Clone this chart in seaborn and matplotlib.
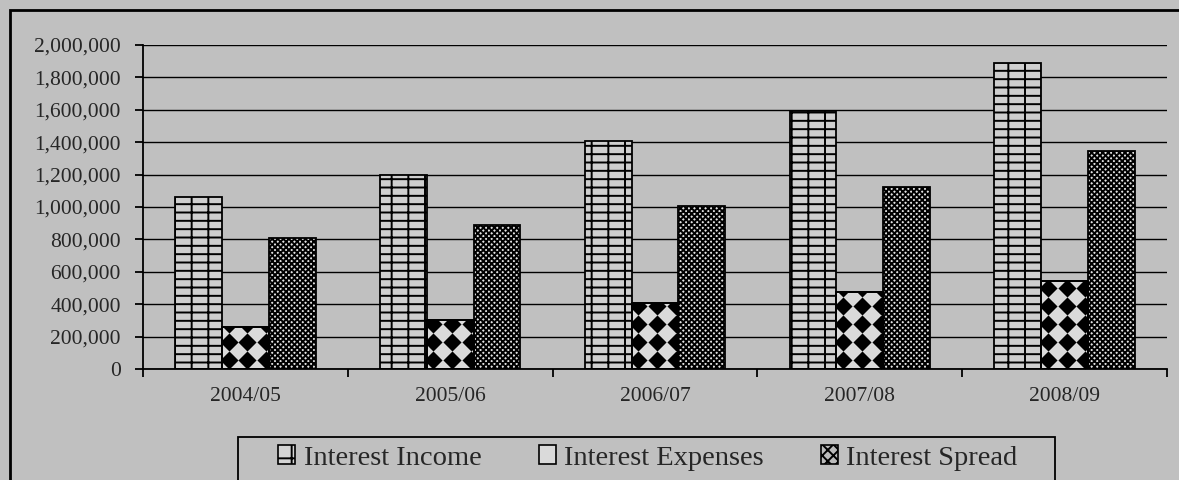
import numpy as np
import pandas as pd
import matplotlib
matplotlib.use("Agg")
import matplotlib.pyplot as plt
from matplotlib.patches import Rectangle, Patch
from matplotlib.ticker import FuncFormatter, MultipleLocator
import seaborn as sns

years = ["2004/05", "2005/06", "2006/07", "2007/08", "2008/09"]
interest_income = [1063000, 1195000, 1405000, 1590000, 1890000]
interest_expenses = [261000, 305000, 410000, 477000, 545000]
interest_spread = [807000, 890000, 1005000, 1122000, 1348000]
series = ["Interest Income", "Interest Expenses", "Interest Spread"]

df = pd.DataFrame({
    "Year": years * 3,
    "Value": interest_income + interest_expenses + interest_spread,
    "Series": np.repeat(series, len(years)),
})

bg = "#C0C0C0"
sns.set_theme(style="white")
plt.rcParams["font.family"] = ["Liberation Serif", "DejaVu Serif"]
plt.rcParams["hatch.linewidth"] = 1.4

fig = plt.figure(figsize=(11.79, 4.80), dpi=100, facecolor=bg)
ax = fig.add_axes([143 / 1179, 1 - 369 / 480, (1167 - 143) / 1179, (369 - 45) / 480])
ax.set_facecolor(bg)

fills = ["#CFCFCF", "#DADADA", "#E2E2E2"]
hatches = ["--|", "", "xxxxxx"]
sns.barplot(data=df, x="Year", y="Value", hue="Series", hue_order=series,
            width=0.685, gap=0, palette=fills, edgecolor="black",
            linewidth=1.3, ax=ax, legend=False, errorbar=None)

for cont, h, c in zip(ax.containers, hatches, fills):
    for bar in cont:
        bar.set_hatch(h)
        bar.set_facecolor(c)
        bar.set_edgecolor("black")

ax.set_ylim(0, 2000000)
ax.set_xlim(-0.5, len(years) - 0.5)

# diamond pattern inside the expenses bars
col_step = 0.092
row_step = 111000
for bar in ax.containers[1]:
    x0, w, hgt = bar.get_x(), bar.get_width(), bar.get_height()
    xs = np.arange(x0 + 0.35 * col_step, x0 + w + col_step, col_step)
    ys = np.arange(0.5 * row_step, hgt + row_step, row_step)
    gx, gy = np.meshgrid(xs, ys)
    sc = ax.scatter(gx.ravel(), gy.ravel(), marker="D", s=85, color="black",
                    linewidths=0, zorder=bar.get_zorder() + 0.1)
    sc.set_clip_path(bar)
    outline = Rectangle((x0, 0), w, hgt, fill=False, edgecolor="black",
                        linewidth=1.3, zorder=bar.get_zorder() + 0.2)
    ax.add_patch(outline)

ax.yaxis.set_major_locator(MultipleLocator(200000))
ax.yaxis.set_major_formatter(FuncFormatter(lambda v, p: f"{int(v):,}"))
ax.grid(axis="y", color="black", linewidth=1.0)
ax.set_axisbelow(True)
ax.set_xlabel("")
ax.set_ylabel("")

for s in ["top", "right"]:
    ax.spines[s].set_visible(False)
for s in ["left", "bottom"]:
    ax.spines[s].set_color("black")
    ax.spines[s].set_linewidth(1.3)

# category ticks sit between groups
ax.set_xticks(np.arange(len(years)))
ax.set_xticklabels(years)
ax.set_xticks(np.arange(-0.5, len(years)), minor=True)
ax.tick_params(axis="x", which="major", length=0, pad=13, labelsize=15.5)
ax.tick_params(axis="x", which="minor", length=6, width=1.3, color="black",
               direction="out", bottom=True)
ax.tick_params(axis="y", length=6, width=1.3, color="black", direction="out",
               left=True, labelsize=15.5, pad=10)

# outer frame
fig.patches.append(Rectangle((10 / 1179, -0.05), 1.1, 1 - 10 / 480 + 0.05,
                             transform=fig.transFigure, fill=False,
                             edgecolor="black", linewidth=2))
# legend frame
fig.patches.append(Rectangle((238 / 1179, -0.05), (1055 - 238) / 1179,
                             1 - 437 / 480 + 0.05, transform=fig.transFigure,
                             fill=False, edgecolor="black", linewidth=1.3))

leg_hatch = ["-|", "", "xxx"]
leg_fill = ["#D4D4D4", "#DADADA", "#BBBBBB"]
handles = [Patch(facecolor=c, edgecolor="black", hatch=h, linewidth=1.2)
           for c, h in zip(leg_fill, leg_hatch)]
fig.legend(handles, series, loc="center", bbox_to_anchor=(648 / 1179, 1 - 458 / 480),
           ncol=3, frameon=False, fontsize=20.5, handlelength=0.6, handleheight=0.6,
           handletextpad=0.3, columnspacing=2.0)

fig.savefig("out.png", dpi=100, facecolor=bg)
